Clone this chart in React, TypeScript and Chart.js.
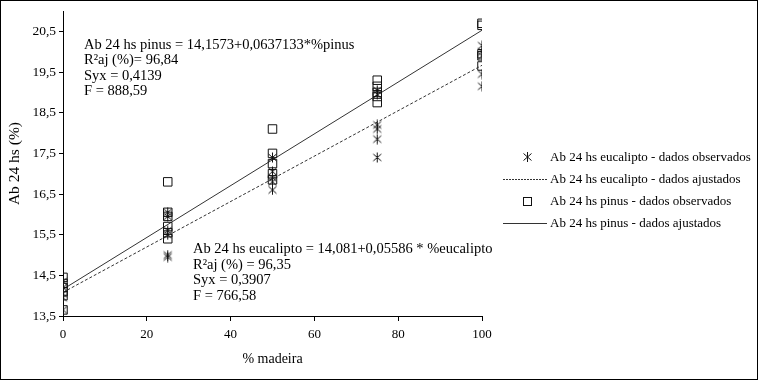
import React, { useEffect, useRef } from "react";
import { Chart, registerables } from "chart.js";

Chart.register(...registerables);

// ---- data ----
const eucaliptoX = [0, 0, 0, 0, 0, 25, 25, 25, 25, 25, 25, 50, 50, 50, 50, 50, 75, 75, 75, 75, 75, 75, 100, 100, 100, 100, 100];
const eucaliptoY = [14.35, 14.2, 14.05, 13.95, 13.65, 16.05, 15.95, 15.6, 15.5, 15.0, 14.95, 17.4, 17.05, 16.9, 16.8, 16.6, 19.05, 18.95, 18.2, 18.1, 17.85, 17.4, 20.15, 20.0, 19.9, 19.45, 19.15];
const pinusX = [0, 0, 0, 0, 0, 0, 25, 25, 25, 25, 25, 25, 50, 50, 50, 50, 50, 75, 75, 75, 75, 75, 100, 100, 100, 100, 100];
const pinusY = [14.45, 14.3, 14.2, 14.1, 14.0, 13.65, 16.8, 16.05, 15.95, 15.7, 15.55, 15.4, 18.1, 17.5, 17.25, 17.0, 16.85, 19.3, 19.15, 19.0, 18.9, 18.75, 20.7, 20.65, 19.95, 19.9, 19.65];
const fitX = [0, 100];
const eucaliptoFit = [14.081, 19.667];
const pinusFit = [14.1573, 20.5286];
const xTicks = [0, 20, 40, 60, 80, 100];
const yTicks = [13.5, 14.5, 15.5, 16.5, 17.5, 18.5, 19.5, 20.5];
const xTitle = "% madeira";
const yTitle = "Ab 24 hs (%)";
const legendLabels = [
  "Ab 24 hs eucalipto - dados observados",
  "Ab 24 hs eucalipto - dados ajustados",
  "Ab 24 hs pinus - dados observados",
  "Ab 24 hs pinus - dados ajustados",
];
const pinusEquation = [
  "Ab 24 hs pinus = 14,1573+0,0637133*%pinus",
  "R²aj (%)= 96,84",
  "Syx = 0,4139",
  "F = 888,59",
];
const eucaliptoEquation = [
  "Ab 24 hs eucalipto = 14,081+0,05586 * %eucalipto",
  "R²aj (%) = 96,35",
  "Syx = 0,3907",
  "F = 766,58",
];

const FONT = "'Liberation Serif', 'Times New Roman', serif";

function makeStar(): HTMLCanvasElement {
  const c = document.createElement("canvas");
  c.width = 11;
  c.height = 11;
  const g = c.getContext("2d")!;
  g.strokeStyle = "#111";
  g.lineWidth = 1;
  g.beginPath();
  g.moveTo(5.5, 0.5);
  g.lineTo(5.5, 10.5);
  g.moveTo(1.5, 2);
  g.lineTo(9.5, 9);
  g.moveTo(9.5, 2);
  g.lineTo(1.5, 9);
  g.stroke();
  return c;
}

export default function App() {
  const ref = useRef<HTMLCanvasElement | null>(null);

  useEffect(() => {
    document.body.style.margin = "0";
    const canvas = ref.current;
    if (!canvas) return;
    const star = makeStar();
    const tickFont = { family: FONT, size: 13.5 };
    const chart = new Chart(canvas, {
      type: "scatter",
      data: {
        datasets: [
          {
            label: legendLabels[0],
            data: eucaliptoX.map((x, i) => ({ x, y: eucaliptoY[i] })),
            pointStyle: star as any,
            pointRadius: 5,
            showLine: false,
          },
          {
            label: legendLabels[1],
            type: "line",
            data: fitX.map((x, i) => ({ x, y: eucaliptoFit[i] })),
            borderColor: "#333",
            borderWidth: 1,
            borderDash: [3, 2],
            pointRadius: 0,
            fill: false,
          } as any,
          {
            label: legendLabels[2],
            data: pinusX.map((x, i) => ({ x, y: pinusY[i] })),
            pointStyle: "rect",
            pointRadius: 6,
            backgroundColor: "rgba(255,255,255,0)",
            borderColor: "#111",
            borderWidth: 1,
            showLine: false,
          },
          {
            label: legendLabels[3],
            type: "line",
            data: fitX.map((x, i) => ({ x, y: pinusFit[i] })),
            borderColor: "#333",
            borderWidth: 1,
            pointRadius: 0,
            fill: false,
          } as any,
        ],
      },
      options: {
        responsive: false,
        animation: false,
        devicePixelRatio: 1,
        layout: { padding: { left: 0, top: 6, right: 276, bottom: 0 } },
        plugins: { legend: { display: false }, tooltip: { enabled: false } },
        scales: {
          x: {
            type: "linear",
            min: 0,
            max: 100,
            afterBuildTicks: (s: any) => {
              s.ticks = xTicks.map((v) => ({ value: v }));
            },
            afterFit: (s: any) => {
              s.height = 64;
            },
            grid: { drawOnChartArea: false, drawTicks: true, tickLength: 5, color: "#000", tickColor: "#000" },
            border: { display: true, color: "#000", width: 1 },
            ticks: {
              font: { family: FONT, size: 13 },
              color: "#000",
              padding: 6,
              maxRotation: 0,
              autoSkip: false,
              callback: (v: any) => String(v),
            },
            title: {
              display: true,
              text: xTitle,
              font: { family: FONT, size: 14 },
              color: "#000",
              padding: { top: 0, bottom: 12 },
            },
          },
          y: {
            type: "linear",
            min: 13.5,
            max: 21,
            afterBuildTicks: (s: any) => {
              s.ticks = yTicks.map((v) => ({ value: v }));
            },
            afterFit: (s: any) => {
              s.width = 63;
            },
            grid: { drawOnChartArea: false, drawTicks: true, tickLength: 4, color: "#000", tickColor: "#000" },
            border: { display: true, color: "#000", width: 1 },
            ticks: {
              font: tickFont,
              color: "#000",
              padding: 3,
              autoSkip: false,
              callback: (v: any) => Number(v).toFixed(1).replace(".", ","),
            },
            title: {
              display: true,
              text: yTitle,
              font: { family: FONT, size: 15.5 },
              color: "#000",
              padding: { top: 6, bottom: 0 },
            },
          },
        },
      },
    });
    return () => chart.destroy();
  }, []);

  const textStyle: React.CSSProperties = {
    position: "absolute",
    fontFamily: FONT,
    fontSize: 14.5,
    color: "#000",
    whiteSpace: "nowrap",
  };

  const legendTop = [157, 179, 201, 223];

  return (
    <div style={{ position: "relative", width: 758, height: 380, background: "#fff", overflow: "hidden" }}>
      <canvas ref={ref} width={758} height={380} style={{ position: "absolute", left: 0, top: 0 }} />
      <div style={{ ...textStyle, left: 84, top: 37, lineHeight: "15.3px" }}>
        {pinusEquation.map((t, i) => (
          <div key={i}>{t}</div>
        ))}
      </div>
      <div style={{ ...textStyle, left: 193, top: 241, lineHeight: "15.7px" }}>
        {eucaliptoEquation.map((t, i) => (
          <div key={i}>{t}</div>
        ))}
      </div>
      {legendLabels.map((t, i) => (
        <div key={i} style={{ ...textStyle, fontSize: 13, left: 550, top: legendTop[i] - 8, lineHeight: "16px" }}>
          {t}
        </div>
      ))}
      <svg width={758} height={380} style={{ position: "absolute", left: 0, top: 0, pointerEvents: "none" }}>
        <g stroke="#111" strokeWidth={1} fill="none">
          <line x1={527.5} y1={152} x2={527.5} y2={162} />
          <line x1={523.5} y1={153.5} x2={531.5} y2={160.5} />
          <line x1={531.5} y1={153.5} x2={523.5} y2={160.5} />
          <line x1={503} y1={179.5} x2={547} y2={179.5} strokeDasharray="2,1" stroke="#333" />
          <rect x={523.5} y={197.5} width={8} height={8} />
          <line x1={503} y1={223.5} x2={547} y2={223.5} stroke="#333" />
        </g>
      </svg>
      <div
        style={{
          position: "absolute",
          left: 0,
          top: 0,
          width: 758,
          height: 380,
          boxSizing: "border-box",
          border: "1px solid #000",
          pointerEvents: "none",
        }}
      />
    </div>
  );
}
